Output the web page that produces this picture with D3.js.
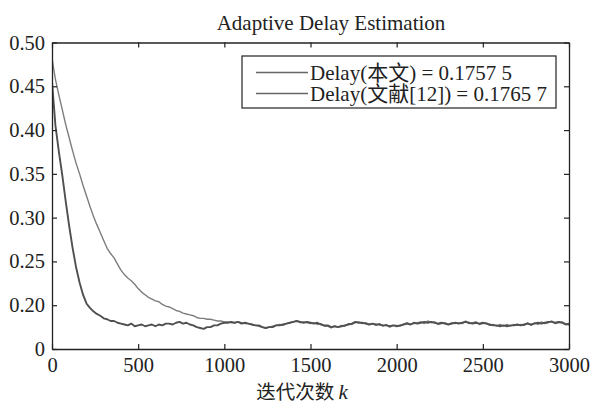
<!DOCTYPE html>
<html lang="zh">
<head>
    <meta charset="UTF-8">
    <title>Adaptive Delay Estimation</title>
    <script src="https://cdnjs.cloudflare.com/ajax/libs/d3/7.8.5/d3.min.js"></script>
    <style>
        body {
            margin: 0;
            background: #fff;
        }
    </style>
</head>
<body>
    <div id="wrapper"></div>
    <script>
        // 迭代步长 20, k = 0 .. 3000
        const kStep = 20
        const kMax = 3000

        // Delay(本文)
        const delayOurs = [
            0.455, 0.405, 0.375, 0.348, 0.318, 0.290, 0.265, 0.243, 0.226, 0.212,
            0.202, 0.197, 0.193, 0.190, 0.188, 0.185, 0.184, 0.182, 0.182, 0.180,
            0.179, 0.178, 0.177, 0.179, 0.176, 0.177, 0.178, 0.176, 0.177, 0.178,
            0.176, 0.178, 0.177, 0.179, 0.179, 0.178, 0.180, 0.181, 0.179, 0.180,
            0.178, 0.177, 0.175, 0.174, 0.173, 0.175, 0.175, 0.177, 0.177, 0.179,
            0.180, 0.180, 0.181, 0.180, 0.181, 0.179, 0.180, 0.179, 0.178, 0.177,
            0.177, 0.175, 0.174, 0.175, 0.175, 0.177, 0.177, 0.178, 0.179, 0.180,
            0.181, 0.182, 0.181, 0.180, 0.181, 0.180, 0.179, 0.180, 0.178, 0.177,
            0.177, 0.175, 0.176, 0.175, 0.176, 0.177, 0.178, 0.179, 0.181, 0.180,
            0.180, 0.179, 0.178, 0.179, 0.178, 0.178, 0.177, 0.177, 0.176, 0.177,
            0.176, 0.177, 0.178, 0.179, 0.178, 0.180, 0.179, 0.180, 0.181, 0.180,
            0.181, 0.180, 0.179, 0.180, 0.179, 0.178, 0.179, 0.180, 0.179, 0.180,
            0.181, 0.180, 0.179, 0.180, 0.179, 0.180, 0.179, 0.178, 0.177, 0.177,
            0.176, 0.177, 0.176, 0.177, 0.177, 0.178, 0.177, 0.178, 0.179, 0.178,
            0.179, 0.180, 0.179, 0.180, 0.181, 0.181, 0.180, 0.181, 0.180, 0.178,
            0.179
        ]

        // Delay(文献[12])
        const delayRef = [
            0.482, 0.458, 0.440, 0.423, 0.406, 0.391, 0.376, 0.362, 0.350, 0.337,
            0.325, 0.313, 0.302, 0.292, 0.283, 0.274, 0.265, 0.259, 0.254, 0.247,
            0.240, 0.235, 0.231, 0.228, 0.224, 0.219, 0.215, 0.212, 0.209, 0.207,
            0.205, 0.204, 0.201, 0.199, 0.198, 0.196, 0.194, 0.193, 0.191, 0.190,
            0.189, 0.188, 0.186, 0.185, 0.185, 0.184, 0.184, 0.183, 0.182, 0.182,
            0.181, 0.181, 0.180, 0.180, 0.181, 0.180, 0.179, 0.179, 0.178, 0.177,
            0.176, 0.175, 0.174, 0.175, 0.176, 0.177,
            0.178, 0.177, 0.179, 0.180, 0.181, 0.182, 0.180, 0.181, 0.180, 0.179,
            0.180, 0.178, 0.179, 0.176, 0.176, 0.174, 0.176, 0.175, 0.177, 0.176,
            0.179, 0.178, 0.180, 0.181, 0.179, 0.180, 0.178, 0.179, 0.177, 0.179,
            0.176, 0.178, 0.175, 0.177, 0.177, 0.176, 0.178, 0.180, 0.178, 0.179,
            0.180, 0.181, 0.179, 0.182, 0.180, 0.181, 0.178, 0.179, 0.180, 0.178,
            0.180, 0.179, 0.180, 0.179, 0.182, 0.179, 0.180, 0.181, 0.178, 0.179,
            0.180, 0.177, 0.178, 0.176, 0.178, 0.176, 0.178, 0.176, 0.178, 0.177,
            0.178, 0.177, 0.180, 0.177, 0.180, 0.178, 0.181, 0.179, 0.180, 0.182,
            0.179, 0.180, 0.181, 0.179, 0.177
        ]

        const xTicks = [0, 500, 1000, 1500, 2000, 2500, 3000]
        // 纵轴底部标为 "0"（断轴）
        const yTicks = [0.15, 0.20, 0.25, 0.30, 0.35, 0.40, 0.45, 0.50]
        const yTickLabels = ['0', '0.20', '0.25', '0.30', '0.35', '0.40', '0.45', '0.50']

        // 图例文字拆成拉丁/中文片段
        const legendLabels = [
            [['Delay(', 'latin'], ['本文', 'cjk'], [') = 0.1757 5', 'latin']],
            [['Delay(', 'latin'], ['文献', 'cjk'], ['[12]) = 0.1765 7', 'latin']]
        ]
        const titleText = 'Adaptive Delay Estimation'

        const serifFont = '"Liberation Serif", serif'
        const cjkFont = '"Noto Sans CJK SC", sans-serif'

        function drawChart() {
            const dimensions = {
                width: 596,
                height: 405,
                margin: { top: 42.5, right: 27, bottom: 56, left: 52 }
            }
            dimensions.boundedWidth = dimensions.width - dimensions.margin.left - dimensions.margin.right
            dimensions.boundedHeight = dimensions.height - dimensions.margin.top - dimensions.margin.bottom

            const svg = d3.select('#wrapper')
                .append('svg')
                    .attr('width', dimensions.width)
                    .attr('height', dimensions.height)

            const bounds = svg.append('g')
                .attr('transform', `translate(${dimensions.margin.left},${dimensions.margin.top})`)

            const xScale = d3.scaleLinear()
                .domain([0, kMax])
                .range([0, dimensions.boundedWidth])

            const yScale = d3.scaleLinear()
                .domain([0.15, 0.50])
                .range([dimensions.boundedHeight, 0])

            const series = [
                { name: 'ref', values: delayRef, color: '#7d7d7d', width: 1.4 },
                { name: 'ours', values: delayOurs, color: '#505050', width: 1.9 }
            ]

            const lineGenerator = d3.line()
                .x((d, i) => xScale(i * kStep))
                .y(d => yScale(d))

            bounds.append('defs').append('clipPath')
                .attr('id', 'plot-clip')
                .append('rect')
                .attr('width', dimensions.boundedWidth)
                .attr('height', dimensions.boundedHeight)

            bounds.append('g')
                .attr('clip-path', 'url(#plot-clip)')
                .selectAll('path')
                .data(series)
                .join('path')
                    .attr('d', d => lineGenerator(d.values))
                    .attr('fill', 'none')
                    .attr('stroke', d => d.color)
                    .attr('stroke-width', d => d.width)
                    .attr('stroke-linejoin', 'round')

            // 坐标轴（刻度朝内）
            const axisGroups = [
                bounds.append('g')
                    .attr('transform', `translate(0,${dimensions.boundedHeight})`)
                    .call(d3.axisBottom(xScale).tickValues(xTicks).tickSizeInner(-5).tickSizeOuter(0).tickPadding(8)
                        .tickFormat(d3.format('d'))),
                bounds.append('g')
                    .call(d3.axisTop(xScale).tickValues(xTicks).tickSizeInner(-5).tickSizeOuter(0).tickFormat('')),
                bounds.append('g')
                    .call(d3.axisLeft(yScale).tickValues(yTicks).tickSizeInner(-5).tickSizeOuter(0).tickPadding(7)
                        .tickFormat((d, i) => yTickLabels[i])),
                bounds.append('g')
                    .attr('transform', `translate(${dimensions.boundedWidth},0)`)
                    .call(d3.axisRight(yScale).tickValues(yTicks).tickSizeInner(-5).tickSizeOuter(0).tickFormat(''))
            ]
            axisGroups.forEach(g => g.attr('font-family', serifFont).attr('font-size', 20.5))

            bounds.selectAll('.domain').attr('stroke', '#222').attr('stroke-width', 1.3)
            bounds.selectAll('.tick line').attr('stroke', '#222').attr('stroke-width', 1.2)
            bounds.selectAll('.tick text').attr('fill', '#222')

            // 标题
            svg.append('text')
                .attr('x', 331)
                .attr('y', 30)
                .attr('text-anchor', 'middle')
                .attr('font-family', serifFont)
                .attr('font-size', 21)
                .attr('fill', '#222')
                .text(titleText)

            // 横轴标签
            const xLabel = svg.append('text')
                .attr('x', 302)
                .attr('y', 399)
                .attr('text-anchor', 'middle')
                .attr('fill', '#222')
                .attr('font-size', 19.5)
            xLabel.append('tspan')
                .attr('font-family', cjkFont)
                .text('迭代次数 ')
            xLabel.append('tspan')
                .attr('font-family', serifFont)
                .attr('font-style', 'italic')
                .attr('font-size', 21)
                .text('k')

            // 图例
            const legend = svg.append('g')
                .attr('transform', 'translate(242,56)')

            legend.append('rect')
                .attr('width', 314)
                .attr('height', 52)
                .attr('fill', '#fff')
                .attr('stroke', '#222')
                .attr('stroke-width', 1.2)

            const legendRows = legend.selectAll('.legend-row')
                .data(series.slice().reverse())
                .join('g')
                    .attr('class', 'legend-row')
                    .attr('transform', (d, i) => `translate(0,${16.5 + i * 21})`)

            legendRows.append('line')
                .attr('x1', 14)
                .attr('x2', 66)
                .attr('stroke', '#666')
                .attr('stroke-width', 1.3)

            const legendText = legendRows.append('text')
                .attr('x', 68)
                .attr('y', 7)
                .attr('fill', '#222')
                .attr('font-family', serifFont)
                .attr('font-size', 21)

            legendText.selectAll('tspan')
                .data((d, i) => legendLabels[i])
                .join('tspan')
                    .attr('font-family', d => d[1] === 'cjk' ? cjkFont : serifFont)
                    .attr('font-size', d => d[1] === 'cjk' ? 21 : 21)
                    .text(d => d[0])
        }

        drawChart()
    </script>
</body>
</html>
